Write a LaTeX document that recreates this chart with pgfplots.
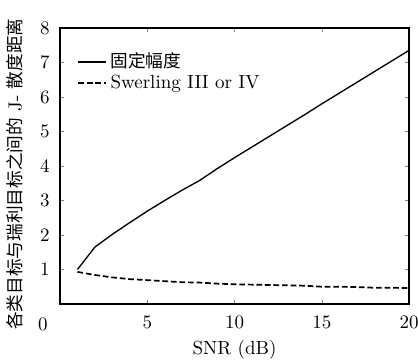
\documentclass[border=0pt]{standalone}
\usepackage{fontspec}
\newfontfamily\cjk[Scale=0.93]{Noto Sans CJK SC}
\usepackage{pgfplots}
\pgfplotsset{compat=1.18}
\begin{document}
\begin{tikzpicture}
\begin{axis}[
  width=183.7pt, height=145.3pt, scale only axis,
  xmin=0, xmax=20, ymin=0, ymax=8,
  xtick={5,10,15,20}, ytick={1,2,3,4,5,6,7,8},
  tick align=inside, major tick length=2.2pt,
  tick pos=both, xticklabel pos=bottom, yticklabel pos=left,
  xticklabel style={yshift=-3pt},
  yticklabel style={xshift=-2pt},
  axis line style={line width=0.7pt},
  xlabel={SNR (dB)},
  xlabel style={yshift=1pt},
  ylabel={{\cjk 各类目标与瑞利目标之间的} J- {\cjk 散度距离}},
  ylabel style={at={(ticklabel cs:0.47)}, yshift=2pt},
  legend style={at={(rel axis cs:0,1)}, anchor=north west, draw=none, fill=none,
    xshift=6pt, yshift=-9pt, row sep=-2pt, font=\normalsize},
  legend cell align=left,
  legend image code/.code={\draw[#1] (0pt,0pt) -- (14.5pt,0pt);},
]
\addplot[black, line width=0.7pt] coordinates {
(1,1.00) (2,1.65) (3,2.02) (4,2.36) (5,2.69) (6,3.00) (7,3.30) (8,3.58)
(9,3.92) (10,4.24) (11,4.55) (12,4.86) (13,5.17) (14,5.48) (15,5.80)
(16,6.11) (17,6.42) (18,6.73) (19,7.04) (20,7.35)};
\addlegendentry{\cjk 固定幅度}
\addplot[black, line width=0.9pt, dash pattern=on 3pt off 1.5pt] coordinates {
(1,0.93) (2,0.84) (3,0.77) (4,0.72) (5,0.69) (6,0.66) (7,0.63) (8,0.62)
(9,0.59) (10,0.57) (11,0.56) (12,0.55) (13,0.54) (14,0.53) (15,0.50)
(16,0.50) (17,0.49) (18,0.47) (19,0.47) (20,0.46)};
\addlegendentry{Swerling III or IV}
\end{axis}
\node at ([xshift=-9pt,yshift=-10.5pt]current axis.south west) {$0$};
\pgfresetboundingbox
\useasboundingbox ([xshift=-31.6pt,yshift=-29.5pt]current axis.south west) rectangle ([xshift=4.7pt,yshift=14.7pt]current axis.north east);
\end{tikzpicture}
\end{document}
